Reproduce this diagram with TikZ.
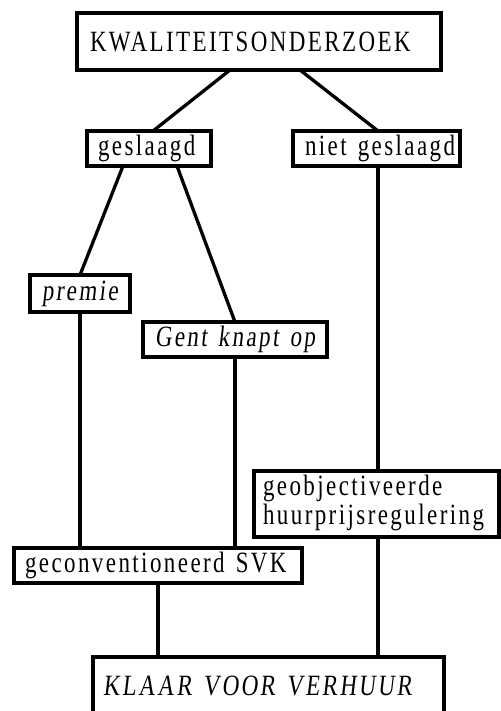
\documentclass[tikz,border=0pt]{standalone}
\usepackage{fontspec}
\setmainfont{Liberation Serif}[LetterSpace=10.5]
\newfontfamily\slantfont{Liberation Serif}[LetterSpace=10.5, FakeSlant=0.15]
\usepackage{graphicx}
\newcommand\tall[1]{\scalebox{1}[1.28]{#1}}
\newcommand\wide{\spaceskip=0.48em\relax}
\newcommand\boxfont{\fontsize{23}{21.8}\selectfont}
\begin{document}
\begin{tikzpicture}[x=1pt,y=-1pt,
  box/.style={draw, line width=3.3pt, outer sep=0pt, inner ysep=0pt,
    anchor=north west, align=left, font=\boxfont},
  link/.style={line width=3.3pt}]
\useasboundingbox (0,0) rectangle (500,711);
% decision boxes (top-left corner, width, height, text padding)
\node[box, minimum height=57pt, inner xsep=13pt, text width=338pt] (kw) at (77,13)
  {\tall{KWALITEITSONDERZOEK}};
\node[box, minimum height=35pt, inner xsep=11pt, text width=102pt] (ges) at (87,131)
  {\tall{geslaagd}};
\node[box, minimum height=35pt, inner xsep=12pt, text width=143pt] (niet) at (293,131)
  {\tall{\wide niet geslaagd}};
\node[box, minimum height=37pt, inner xsep=12pt, text width=76pt] (premie) at (30,275)
  {\tall{\slantfont premie}};
\node[box, minimum height=35pt, inner xsep=12pt, text width=160pt] (gent) at (143,322)
  {\tall{\slantfont\wide Gent knapt op}};
\node[box, minimum height=66pt, inner xsep=9pt, text width=227pt] (geo) at (254,471)
  {\tall{\begin{tabular}{@{}l@{}}geobjectiveerde\\huurprijsregulering\end{tabular}}};
\node[box, minimum height=35pt, inner xsep=11pt, text width=266pt] (svk) at (14,548)
  {\tall{\wide geconventioneerd SVK}};
\node[box, minimum height=58pt, inner xsep=10pt, text width=331pt] (klaar) at (93,657)
  {\tall{\slantfont\wide KLAAR VOOR VERHUUR}};
% connectors
\draw[link] ([xshift=153pt]kw.south west) -- ([xshift=66pt]ges.north west);
\draw[link] ([xshift=223pt]kw.south west) -- ([xshift=85pt]niet.north west);
\draw[link] ([xshift=36pt]ges.south west) -- ([xshift=50pt]premie.north west);
\draw[link] ([xshift=90pt]ges.south west) -- ([xshift=92pt]gent.north west);
\draw[link] ([xshift=50pt]premie.south west) -- ([xshift=66pt]svk.north west);
\draw[link] ([xshift=92pt]gent.south west) -- ([xshift=221pt]svk.north west);
\draw[link] ([xshift=85pt]niet.south west) -- ([xshift=124pt]geo.north west);
\draw[link] ([xshift=124pt]geo.south west) -- ([xshift=285pt]klaar.north west);
\draw[link] ([xshift=144pt]svk.south west) -- ([xshift=65pt]klaar.north west);
\end{tikzpicture}
\end{document}
